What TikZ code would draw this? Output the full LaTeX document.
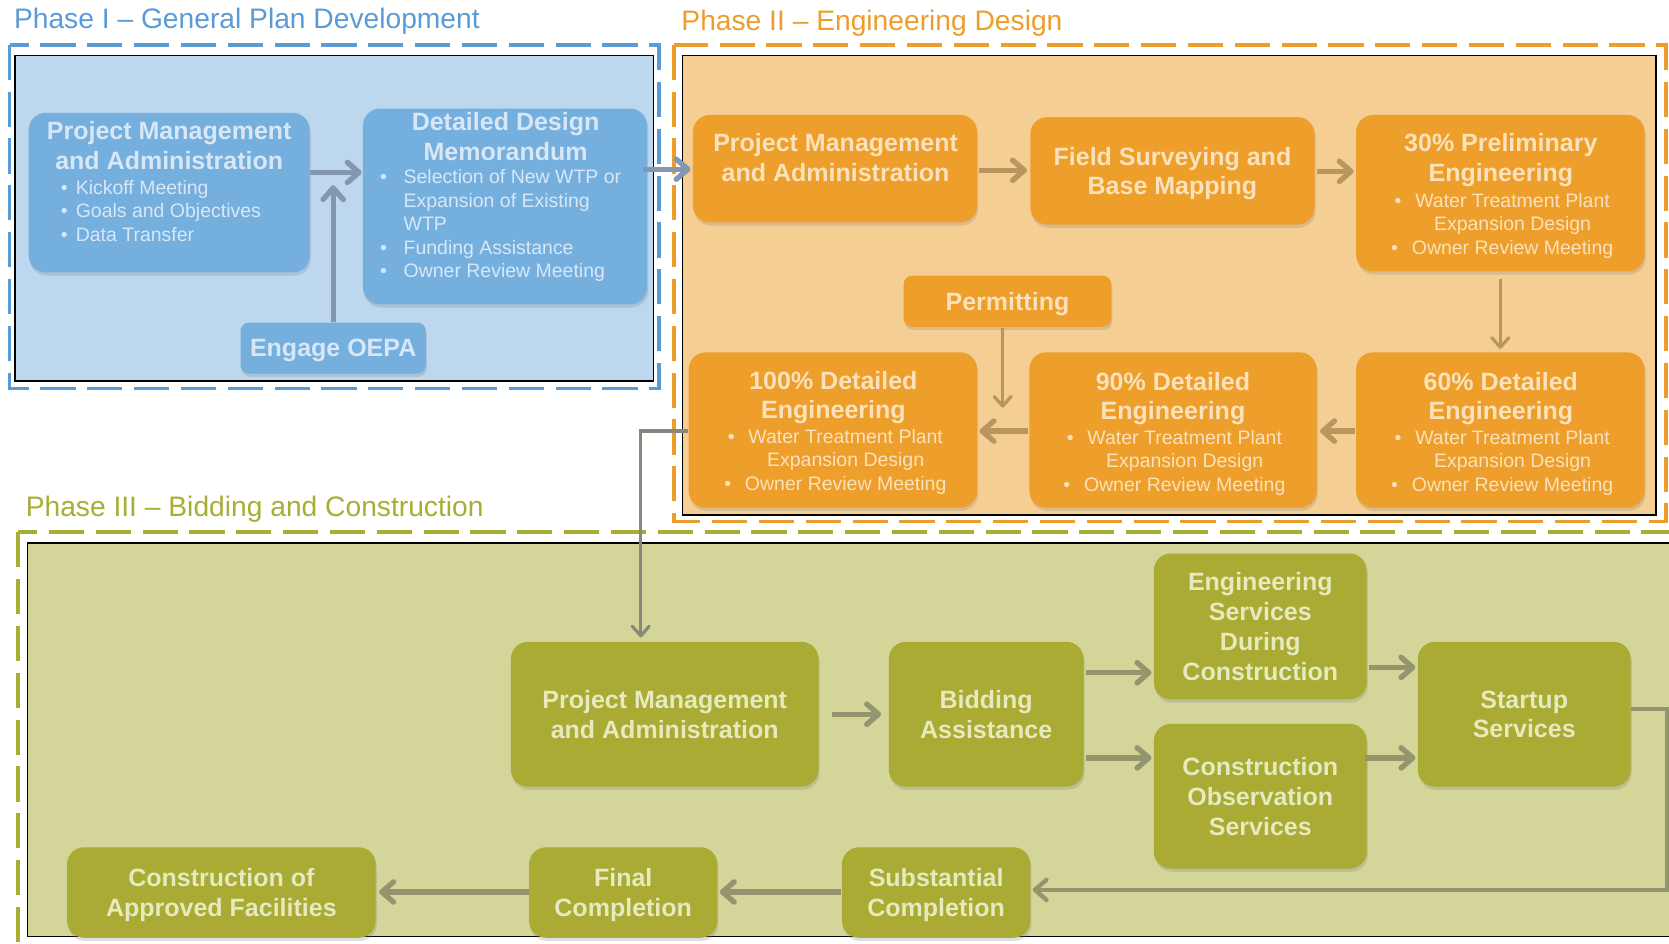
\documentclass[tikz,border=0pt]{standalone}
\usepackage{fontspec}
\setmainfont{Liberation Sans}
\usetikzlibrary{arrows.meta,shadows}
\definecolor{bluT}{RGB}{91,155,213}
\definecolor{bluBg}{RGB}{189,215,238}
\definecolor{bluBox}{RGB}{117,175,222}
\definecolor{bluTx}{RGB}{216,231,246}
\definecolor{bluAr}{RGB}{132,151,176}
\definecolor{orT}{RGB}{237,157,43}
\definecolor{orBg}{RGB}{245,206,148}
\definecolor{orBox}{RGB}{237,158,43}
\definecolor{orTx}{RGB}{251,226,188}
\definecolor{orAr}{RGB}{184,150,96}
\definecolor{olT}{RGB}{168,173,52}
\definecolor{olBg}{RGB}{212,213,152}
\definecolor{olBox}{RGB}{169,171,52}
\definecolor{olTx}{RGB}{231,233,190}
\definecolor{olAr}{RGB}{148,148,110}
\definecolor{grAr}{RGB}{135,135,125}
\newcommand\ttlfont{\fontsize{23.5}{28}\selectfont\bfseries}
\newcommand\bulfont{\fontsize{18.3}{22}\selectfont}
\newcommand\phfont{\fontsize{26.5}{30}\selectfont}
\newcommand\cb[1]{\llap{\textbullet\hspace{13pt}}#1}
\newcommand\lb[2]{\makebox[#1][l]{#2}}
\begin{document}
\begin{tikzpicture}[x=1pt,y=-1pt,
  pbox/.style={rounded corners=16pt, inner sep=0pt, align=center, font=\ttlfont, text depth=0pt,
    drop shadow={shadow xshift=1pt,shadow yshift=-3pt,opacity=.25}},
  bbox/.style={pbox, fill=bluBox, text=bluTx},
  obox/.style={pbox, fill=orBox, text=orTx},
  gbox/.style={pbox, fill=olBox, text=olTx},
  ttl/.style={align=center, font=\ttlfont, inner sep=0pt, text depth=0pt},
  bul/.style={align=center, font=\bulfont, inner sep=0pt, text depth=0pt},
  bull/.style={align=left, font=\bulfont, inner sep=0pt, anchor=west, text depth=0pt},
  phdash/.style={line width=3.5pt, dash pattern=on 33pt off 11pt},
  inner/.style={draw=black, line width=1.5pt},
  arr/.style={line width=5pt, -{Straight Barb[length=11pt,width=19pt,round]}},
  arrthin/.style={line width=3pt, -{Straight Barb[length=9pt,width=16pt,round]}}]
\useasboundingbox (0,0) rectangle (1568,886);
\clip (0,0) rectangle (1568,886);

% ---------- Phase frames ----------
\draw[bluT, phdash] (9,42) rectangle (619,365);
\draw[inner, fill=bluBg] (14,52) rectangle (614,358);
\node[bluT, font=\phfont, anchor=base west, inner sep=0pt] (ph1) at (13,27) {Phase I – General Plan Development};

\draw[orT, phdash] (633,42) rectangle (1565,490);
\draw[inner, fill=orBg] (641,52) rectangle (1556,484);
\node[orT, font=\phfont, anchor=base west, inner sep=0pt] (ph2) at (640,29) {Phase II – Engineering Design};

\draw[olT, phdash] (17,500) rectangle (1620,930);
\draw[inner, fill=olBg] (26,510) rectangle (1620,880);
\node[olT, font=\phfont, anchor=base west, inner sep=0pt] (ph3) at (24,485) {Phase III – Bidding and Construction};

% ---------- Phase I ----------
\node[bbox, minimum width=264pt, minimum height=150pt] (p1pm) at (159,181) {};
\node[ttl, text=bluTx] (p1pmT) at (159,137) {Project Management\\and Administration};
\node[bull, text=bluTx] (p1pmB) at (57,198) {\lb{14pt}{\textbullet}Kickoff Meeting\\\lb{14pt}{\textbullet}Goals and Objectives\\\lb{14pt}{\textbullet}Data Transfer};

\node[bbox, minimum width=267pt, minimum height=184pt] (p1ddm) at (474.5,194) {};
\node[ttl, text=bluTx] (p1ddmT) at (475,128) {Detailed Design\\Memorandum};
\node[bull, text=bluTx] (p1ddmB) at (357,210) {\lb{22pt}{\textbullet}Selection of New WTP or\\\lb{22pt}{}Expansion of Existing\\\lb{22pt}{}WTP\\\lb{22pt}{\textbullet}Funding Assistance\\\lb{22pt}{\textbullet}Owner Review Meeting};

\node[bbox, rounded corners=8pt, minimum width=174pt, minimum height=48pt] (p1oepa) at (313,327) {Engage OEPA};

% ---------- Phase II ----------
\node[obox, minimum width=267pt, minimum height=101pt] (p2pm) at (784.5,158.5) {};
\node[ttl, text=orTx] (p2pmT) at (785,148) {Project Management\\and Administration};
\node[obox, minimum width=267pt, minimum height=101pt] (p2fs) at (1101.5,160.5) {Field Surveying and\\Base Mapping};
\node[obox, minimum width=271pt, minimum height=147pt] (p2p30) at (1409.5,181.5) {};
\node[ttl, text=orTx] (p2p30T) at (1410,148) {30\% Preliminary\\Engineering};
\node[bul, text=orTx] (p2p30B) at (1421,210) {\cb{Water Treatment Plant}\\Expansion Design\\\cb{Owner Review Meeting}};

\node[obox, rounded corners=8pt, minimum width=195pt, minimum height=48pt] (p2perm) at (946.5,283) {Permitting};

\node[obox, minimum width=271pt, minimum height=146pt] (p2d100) at (782.5,404) {};
\node[ttl, text=orTx] (p2d100T) at (783,371) {100\% Detailed\\Engineering};
\node[bul, text=orTx] (p2d100B) at (794.5,432) {\cb{Water Treatment Plant}\\Expansion Design\\\cb{Owner Review Meeting}};

\node[obox, minimum width=270pt, minimum height=146pt] (p2d90) at (1102,404) {};
\node[ttl, text=orTx] (p2d90T) at (1102,372) {90\% Detailed\\Engineering};
\node[bul, text=orTx] (p2d90B) at (1113,433) {\cb{Water Treatment Plant}\\Expansion Design\\\cb{Owner Review Meeting}};

\node[obox, minimum width=271pt, minimum height=146pt] (p2d60) at (1409.5,404) {};
\node[ttl, text=orTx] (p2d60T) at (1410,372) {60\% Detailed\\Engineering};
\node[bul, text=orTx] (p2d60B) at (1421,433) {\cb{Water Treatment Plant}\\Expansion Design\\\cb{Owner Review Meeting}};

% ---------- Phase III ----------
\node[gbox, minimum width=289pt, minimum height=136pt] (p3pm) at (624.5,671) {Project Management\\and Administration};
\node[gbox, minimum width=183pt, minimum height=136pt] (p3bid) at (926.5,671) {Bidding\\Assistance};
\node[gbox, minimum width=200pt, minimum height=137pt] (p3esdc) at (1184,588.5) {Engineering\\Services\\During\\Construction};
\node[gbox, minimum width=200pt, minimum height=136pt] (p3cos) at (1184,748) {Construction\\Observation\\Services};
\node[gbox, minimum width=200pt, minimum height=136pt] (p3start) at (1432,671) {Startup\\Services};
\node[gbox, minimum width=177pt, minimum height=85pt] (p3sub) at (879.5,838.5) {Substantial\\Completion};
\node[gbox, minimum width=177pt, minimum height=85pt] (p3final) at (585.5,838.5) {Final\\Completion};
\node[gbox, minimum width=290pt, minimum height=85pt] (p3coaf) at (208,838.5) {Construction of\\Approved Facilities};

% ---------- connectors ----------
\coordinate (y1) at (0,162);
\coordinate (j1) at (313,174);
\coordinate (y2) at (0,159);
\draw[arr, bluAr, shorten >=1pt] (p1pm.east |- y1) -- (p1ddm.west |- y1);
\draw[arr, bluAr] (p1oepa.north) -- (j1);
\draw[arr, bluAr, shorten <=-4pt, shorten >=2pt] (p1ddm.east |- y2) -- (p2pm.west |- y2);

\coordinate (y3) at (0,160);
\coordinate (y4) at (0,161);
\coordinate (y5) at (0,405);
\coordinate (pe) at (942,383);
\draw[arr, orAr, shorten <=2pt, shorten >=3pt] (p2pm.east |- y3) -- (p2fs.west |- y3);
\draw[arr, orAr, shorten <=2pt, shorten >=2pt] (p2fs.east |- y4) -- (p2p30.west |- y4);
\draw[arrthin, orAr, shorten <=7pt, shorten >=3pt] (p2p30.south) -- (p2d60.north);
\draw[arr, orAr, shorten <=1pt, shorten >=3pt] (p2d60.west |- y5) -- (p2d90.east |- y5);
\draw[arr, orAr, shorten <=1pt, shorten >=2pt] (p2d90.west |- y5) -- (p2d100.east |- y5);
\draw[arrthin, orAr, shorten <=1pt] (p2perm.south -| pe) -- (pe);

\coordinate (k) at (602,405);
\draw[arrthin, grAr, shorten >=4pt] (p2d100.west |- k) -- (k) -- (k |- p3pm.north);

\coordinate (y6) at (0,632);
\coordinate (y7) at (0,712);
\coordinate (y8) at (0,627);
\coordinate (r1) at (1566,666);
\coordinate (r2) at (1566,836);
\coordinate (y9) at (0,838);
\draw[arr, olAr, shorten <=12pt, shorten >=7pt] (p3pm.east) -- (p3bid.west);
\draw[arr, olAr, shorten <=2pt, shorten >=2pt] (p3bid.east |- y6) -- (p3esdc.west |- y6);
\draw[arr, olAr, shorten <=2pt, shorten >=2pt] (p3bid.east |- y7) -- (p3cos.west |- y7);
\draw[arr, olAr, shorten <=2pt, shorten >=2pt] (p3esdc.east |- y8) -- (p3start.west |- y8);
\draw[arr, olAr, shorten <=-2pt, shorten >=2pt] (p3cos.east |- y7) -- (p3start.west |- y7);
\draw[arr, olAr, line width=4pt, shorten >=2pt] (p3start.east |- r1) -- (r1) -- (r2) -- (p3sub.east |- r2);
\draw[arr, olAr, shorten <=1pt, shorten >=2pt] (p3sub.west |- y9) -- (p3final.east |- y9);
\draw[arr, olAr, shorten >=3pt] (p3final.west |- y9) -- (p3coaf.east |- y9);
\end{tikzpicture}
\end{document}
